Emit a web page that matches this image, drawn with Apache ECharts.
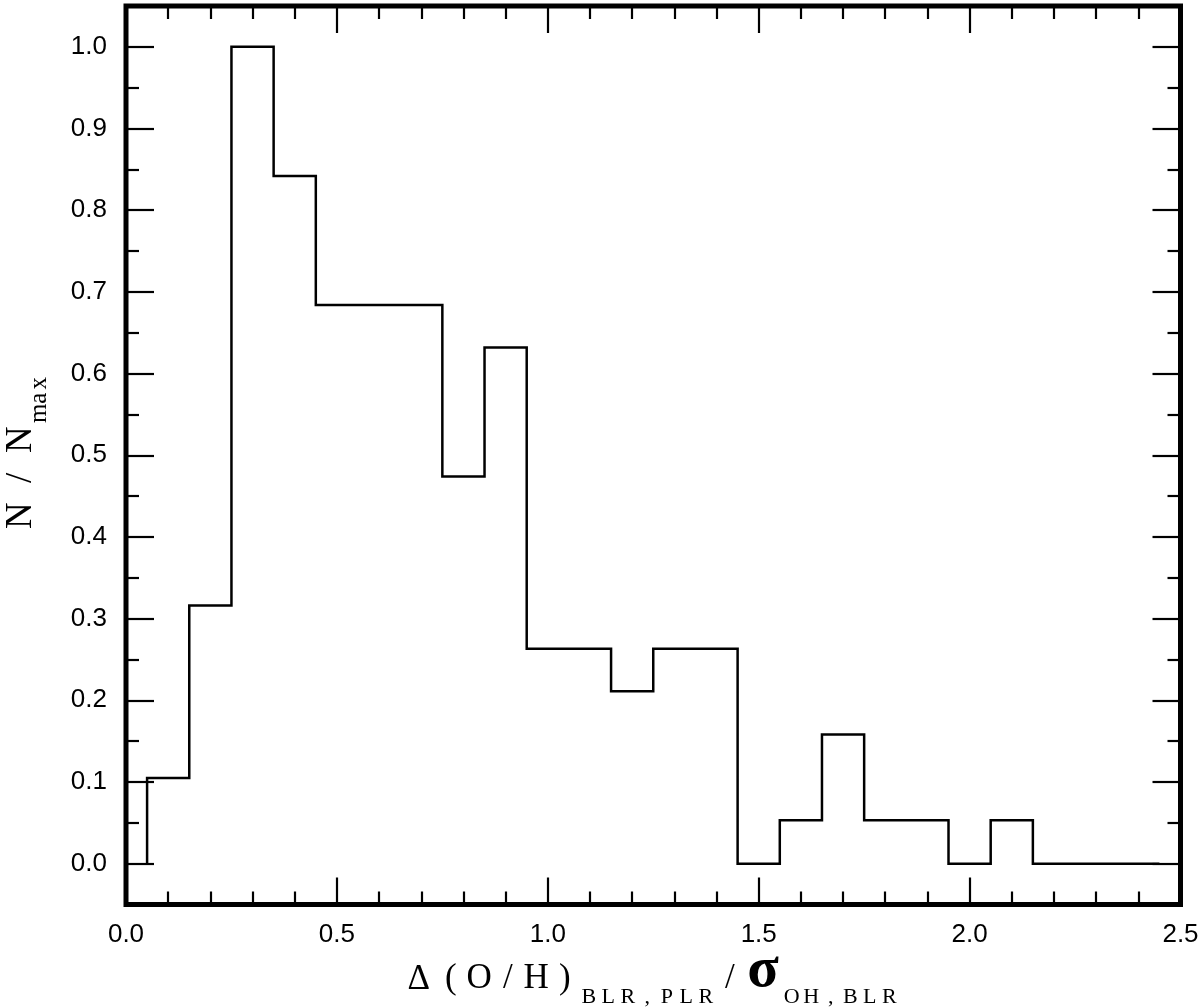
<!DOCTYPE html>
<html>
<head>
<meta charset="utf-8">
<style>
  html, body { margin: 0; padding: 0; background: #fff; }
  #chart { width: 1200px; height: 1008px; }
</style>
<script src="https://cdn.jsdelivr.net/npm/echarts@6/dist/echarts.min.js"></script>
</head>
<body>
<div id="chart"></div>
<script>
// ---- data ----
const binStart = 0.05;
const binWidth = 0.1;
const binValues = [0.105, 0.316, 1.0, 0.842, 0.684, 0.684, 0.684, 0.474, 0.632, 0.263,
                   0.263, 0.211, 0.263, 0.263, 0.0, 0.053, 0.158, 0.053, 0.053, 0.0,
                   0.053, 0.0, 0.0, 0.0];
const xMajorTicks = [0.0, 0.5, 1.0, 1.5, 2.0, 2.5];
const yMajorTicks = [0.0, 0.1, 0.2, 0.3, 0.4, 0.5, 0.6, 0.7, 0.8, 0.9, 1.0];
const yMinorTicks = [0.05, 0.15, 0.25, 0.35, 0.45, 0.55, 0.65, 0.75, 0.85, 0.95];
const xRange = [0, 2.5];
const yRange = [-0.05, 1.05];

// ---- histogram outline from the bins ----
const outline = [[binStart, 0]];
binValues.forEach((v, i) => {
  const l = +(binStart + i * binWidth).toFixed(2);
  const r = +(binStart + (i + 1) * binWidth).toFixed(2);
  outline.push([l, v], [r, v]);
});

// ---- rich text helpers ----
function tok(style, str) {
  return str.split('').map(c => '{' + style + '|' + c + '}').join('');
}
const rich = {
  m: { fontFamily: 'Liberation Serif', fontSize: 35, lineHeight: 35, width: 28.5, align: 'center',
       verticalAlign: 'bottom', padding: [0, 0, 12, 0], color: '#000' },
  s: { fontFamily: 'Liberation Serif', fontSize: 22, lineHeight: 22, width: 19.5, align: 'center',
       verticalAlign: 'bottom', color: '#000' },
  d: { fontFamily: 'Liberation Serif', fontSize: 35, lineHeight: 35, width: 29, align: 'left',
       verticalAlign: 'bottom', padding: [0, 0, 11, 0], color: '#000' },
  g: { fontFamily: 'Liberation Serif', fontWeight: 'bold', fontSize: 58, lineHeight: 58, width: 38,
       align: 'center', verticalAlign: 'bottom', padding: [0, 0, 8, 0], color: '#000' },
  M: { fontFamily: 'Liberation Serif', fontSize: 37, lineHeight: 37, width: 38, align: 'center',
       verticalAlign: 'bottom', padding: [0, 0, 12, 0], color: '#000' },
  S: { fontFamily: 'Liberation Serif', fontSize: 25, lineHeight: 25, width: 15, align: 'center',
       verticalAlign: 'bottom', color: '#000' }
};
const xName = '{d|Δ}' + tok('m', '(O/H)') + tok('s', 'BLR,PLR') + tok('m', '/') + '{g|σ}' + tok('s', 'OH,BLR');
const yName = tok('M', 'N/N') + tok('S', 'max');

const labelFont = { fontFamily: 'Liberation Sans', fontSize: 26, color: '#000' };
const tickStyle = { color: '#000', width: 2.2 };

function xAxisDef(pos, withLabels) {
  return {
    type: 'value', position: pos, min: xRange[0], max: xRange[1], interval: 0.5,
    axisLine: { show: false, onZero: false },
    splitLine: { show: false },
    axisTick: { show: true, inside: true, length: 27, lineStyle: tickStyle },
    minorTick: { show: true, splitNumber: 5, length: 13, lineStyle: tickStyle },
    axisLabel: withLabels ? Object.assign({ show: true, margin: 17, customValues: xMajorTicks,
      formatter: v => v.toFixed(1) }, labelFont) : { show: false },
    name: withLabels ? xName : '',
    nameLocation: 'middle', nameGap: 46, nameMoveOverlap: false,
    nameTextStyle: { rich: rich }
  };
}
function yAxisDef(pos, ticks, len, withLabels) {
  return {
    type: 'value', position: pos, min: yRange[0], max: yRange[1],
    axisLine: { show: false, onZero: false },
    splitLine: { show: false },
    axisTick: { show: true, inside: true, length: len, customValues: ticks, lineStyle: tickStyle },
    axisLabel: withLabels ? Object.assign({ show: true, margin: 19, customValues: ticks,
      formatter: v => v.toFixed(1) }, labelFont) : { show: false },
    name: withLabels ? yName : '',
    nameLocation: 'middle', nameGap: 74, nameRotate: 90, nameMoveOverlap: false,
    nameTextStyle: { rich: rich }
  };
}

const chart = echarts.init(document.getElementById('chart'), null, { renderer: 'canvas' });
chart.setOption({
  animation: false,
  backgroundColor: '#fff',
  grid: {
    left: 126, right: 19.5, top: 6, bottom: 103.5,
    show: true, borderColor: '#000', borderWidth: 5, backgroundColor: 'transparent',
    containLabel: false, outerBoundsMode: 'none'
  },
  xAxis: [xAxisDef('bottom', true), xAxisDef('top', false)],
  yAxis: [
    yAxisDef('left', yMajorTicks, 28, true),
    yAxisDef('left', yMinorTicks, 13, false),
    yAxisDef('right', yMajorTicks, 28, false),
    yAxisDef('right', yMinorTicks, 13, false)
  ],
  series: [{
    type: 'line',
    xAxisIndex: 0, yAxisIndex: 0,
    data: outline,
    showSymbol: false, symbol: 'none',
    lineStyle: { color: '#000', width: 2.5, join: 'miter' },
    z: 1
  }]
});
</script>
</body>
</html>
